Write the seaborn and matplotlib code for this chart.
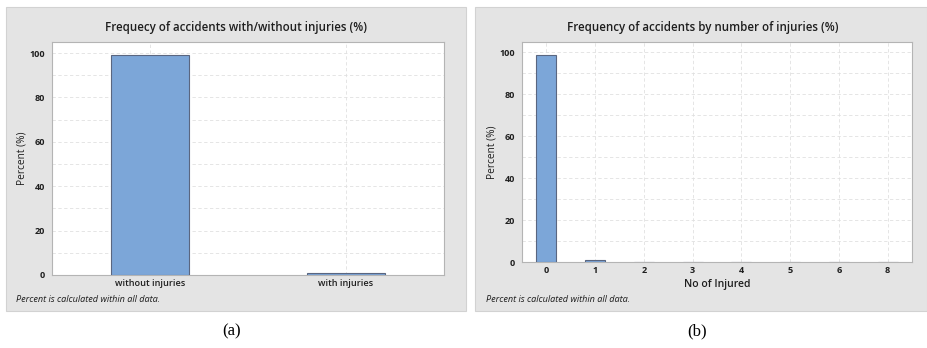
import matplotlib
matplotlib.use("Agg")
import matplotlib.pyplot as plt
from matplotlib.patches import Rectangle
import seaborn as sns
import pandas as pd

# Share of accidents with / without injuries (%)
injury_status = ["without injuries", "with injuries"]
injury_status_pct = [99.2, 0.8]

# Share of accidents by number of injured persons (%)
injured_counts = ["0", "1", "2", "3", "4", "5", "6", "8"]
injured_counts_pct = [98.9, 0.85, 0.12, 0.05, 0.03, 0.02, 0.02, 0.01]

y_ticks = [0, 20, 40, 60, 80, 100]

sns.set_theme(style="white")
plt.rcParams["font.family"] = ["Open Sans", "DejaVu Sans"]

W, H = 927, 348
fig = plt.figure(figsize=(W / 100, H / 100), dpi=100)
fig.patch.set_facecolor("white")

panel_bg = "#e4e4e4"
bar_color = "#7ca6d8"
bar_edge = "#5a6680"
grid_color = "#e0e0e0"
spine_color = "#b4b4b4"
text_color = "#1e1e1e"


def fx(px):
    return px / W


def fy(py):
    return 1 - py / H


# grey panel frames, kept behind the axes
for x0, x1 in [(6, 466), (475, 927)]:
    fig.patches.append(Rectangle((fx(x0), fy(311)), fx(x1 - x0), (311 - 7) / H,
                                 transform=fig.transFigure, facecolor=panel_bg,
                                 edgecolor="#d2d2d2", linewidth=0.8, zorder=-10))


def style_axes(ax, n_cats):
    ax.set_facecolor("white")
    ax.set_ylim(0, 105)
    ax.set_xlim(-0.5, n_cats - 0.5)
    ax.set_yticks(y_ticks)
    ax.set_yticks(range(10, 105, 20), minor=True)
    ax.tick_params(axis="y", which="major", length=3, width=0.6, color=spine_color,
                   labelsize=6.5, pad=2, labelcolor=text_color)
    ax.tick_params(axis="y", which="minor", length=0)
    ax.tick_params(axis="x", length=0, labelsize=6.6, pad=3, labelcolor=text_color)
    ax.grid(True, which="both", axis="y", linestyle=(0, (4, 3)), color=grid_color,
            linewidth=0.6)
    ax.grid(True, which="major", axis="x", linestyle=(0, (4, 3)), color=grid_color,
            linewidth=0.6)
    ax.set_axisbelow(True)
    for s in ax.spines.values():
        s.set_color(spine_color)
        s.set_linewidth(0.8)
    for lbl in ax.get_yticklabels() + ax.get_xticklabels():
        lbl.set_fontweight("bold")
    # bars sit on top of the baseline spine
    for p in ax.patches:
        p.set_zorder(3)


# (a) with / without injuries
ax1 = fig.add_axes([fx(52), fy(275), fx(444 - 52), (275 - 42) / H])
df1 = pd.DataFrame({"status": injury_status, "pct": injury_status_pct})
sns.barplot(data=df1, x="status", y="pct", ax=ax1, color=bar_color, width=0.4,
            edgecolor=bar_edge, linewidth=0.8, saturation=1)
style_axes(ax1, len(injury_status))
for lbl in ax1.get_xticklabels():
    lbl.set_fontweight("semibold")
ax1.set_xlabel("")
ax1.set_ylabel("Percent (%)", fontsize=7.3, labelpad=1.5, color=text_color)
fig.text(fx(236), fy(28), "Frequecy of accidents with/without injuries (%)",
         ha="center", va="center", fontsize=8.3, fontweight="semibold", color=text_color)
fig.text(fx(16), fy(299), "Percent is calculated within all data.", ha="left",
         va="center", fontsize=6.6, style="italic", color=text_color)

# (b) by number of injured
ax2 = fig.add_axes([fx(522), fy(262), fx(912 - 522), (262 - 42) / H])
df2 = pd.DataFrame({"injured": injured_counts, "pct": injured_counts_pct})
sns.barplot(data=df2, x="injured", y="pct", ax=ax2, color=bar_color, width=0.41,
            edgecolor=bar_edge, linewidth=0.8, saturation=1, order=injured_counts)
style_axes(ax2, len(injured_counts))
ax2.set_xlabel("No of Injured", fontsize=7.5, labelpad=3, color=text_color,
               fontweight="semibold")
ax2.set_ylabel("Percent (%)", fontsize=7.3, labelpad=1.5, color=text_color)
fig.text(fx(703), fy(28), "Frequency of accidents by number of injuries (%)",
         ha="center", va="center", fontsize=8.3, fontweight="semibold", color=text_color)
fig.text(fx(486), fy(299), "Percent is calculated within all data.", ha="left",
         va="center", fontsize=6.6, style="italic", color=text_color)

# panel captions
for x, lab in [(232, "(a)"), (697, "(b)")]:
    fig.text(fx(x), fy(331), lab, ha="center", va="center", fontsize=12,
             family=["Liberation Serif", "DejaVu Serif"], color="black")

fig.savefig("out.png", dpi=100)
